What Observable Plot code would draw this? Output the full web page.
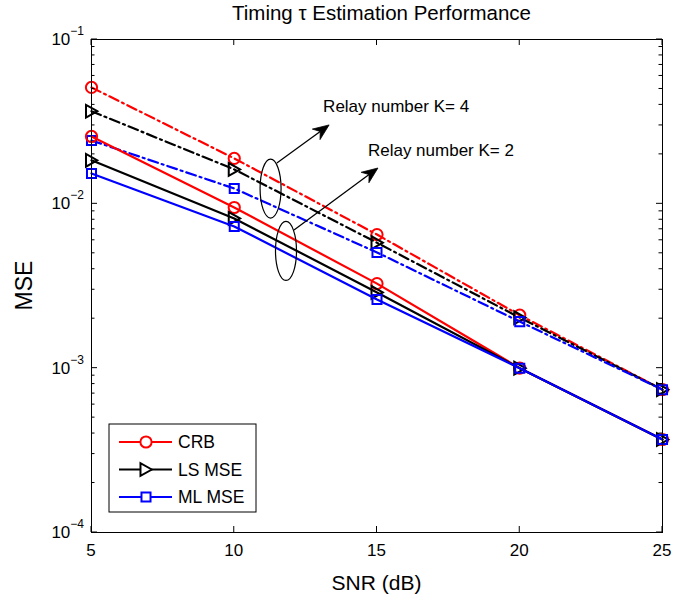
<!DOCTYPE html>
<html><head><meta charset="utf-8">
<script src="https://cdn.jsdelivr.net/npm/d3@7"></script>
<script src="https://cdn.jsdelivr.net/npm/@observablehq/plot@0.6"></script>
<style>
html,body{margin:0;padding:0;background:#fff}
svg{font-family:"Liberation Sans",Arial,Helvetica,sans-serif}
</style>
</head><body><div id="chart"></div>
<script>
// ---- data ----
const snr = [5, 10, 15, 20, 25];
const seriesNames = ["CRB", "LS MSE", "ML MSE"];
const seriesColors = ["#ff0000", "#000000", "#0000ff"];
// Relay number K = 4 (dash-dot)
const crbK4 = [0.0511, 0.0189, 0.0065, 0.0021, 0.00074];
const lsK4  = [0.0366, 0.0162, 0.0058, 0.00203, 0.00074];
const mlK4  = [0.0243, 0.0124, 0.00506, 0.00192, 0.00074];
// Relay number K = 2 (solid)
const crbK2 = [0.0257, 0.0095, 0.00327, 0.0010, 0.000368];
const lsK2  = [0.0184, 0.00815, 0.00289, 0.0010, 0.000368];
const mlK2  = [0.0153, 0.00728, 0.00262, 0.0010, 0.000368];
const xTicks = [5, 10, 15, 20, 25];
const yTicks = [1e-4, 1e-3, 1e-2, 1e-1];
const yTickBase = ["10", "10", "10", "10"];
const yTickExp = ["\u22124", "\u22123", "\u22122", "\u22121"];
const titleText = "Timing \u03c4 Estimation Performance";
const xLabel = "SNR (dB)";
const yLabel = "MSE";
// annotations, anchored in data coordinates (SNR, MSE)
const annLabels = ["Relay number K= 4", "Relay number K= 2"];
const annEllipse = [[11.29, 0.0123], [11.83, 0.00513]];
const annFrom = [[11.51, 0.01758], [12.11, 0.00689]];
const annTo = [[13.34, 0.030], [15.05, 0.0164]];
const annText = [[13.13, 0.0391], [14.70, 0.0211]];

// ---- build table ----
const groups = [
  {K: 4, vals: [crbK4, lsK4, mlK4]},
  {K: 2, vals: [crbK2, lsK2, mlK2]}
];
const rows = [];
groups.forEach(g => g.vals.forEach((arr, i) => arr.forEach((v, j) =>
  rows.push({snr: snr[j], mse: v, series: seriesNames[i], K: g.K}))));

// right-pointing triangle symbol
const triRight = {
  draw(ctx, size) {
    const r = Math.sqrt(size / Math.PI);
    ctx.moveTo(r * 1.0, 0);
    ctx.lineTo(-r * 0.95, -r * 1.1);
    ctx.lineTo(-r * 0.95, r * 1.1);
    ctx.closePath();
  }
};
const symbols = [d3.symbolCircle, triRight, d3.symbolSquare];
const symbolR = [5.6, 5.8, 5.1];

const NS = "http://www.w3.org/2000/svg";
function el(tag, attrs, text) {
  const e = document.createElementNS(NS, tag);
  for (const k in attrs) e.setAttribute(k, attrs[k]);
  if (text != null) e.textContent = text;
  return e;
}

function axesMark(index, scales, values, dims) {
  const g = el("g", {});
  const x = scales.x, y = scales.y;
  const L = dims.marginLeft, T = dims.marginTop;
  const R = dims.width - dims.marginRight, B = dims.height - dims.marginBottom;
  let d = "";
  const major = 6, minor = 3.5;
  for (const t of xTicks) {
    const px = x(t);
    d += `M${px},${B}V${B - major}M${px},${T}V${T + major}`;
  }
  for (const t of yTicks) {
    const py = y(t);
    d += `M${L},${py}H${L + major}M${R},${py}H${R - major}`;
  }
  for (let e = -4; e <= -2; e++) {
    for (let m = 2; m <= 9; m++) {
      const py = y(m * Math.pow(10, e));
      d += `M${L},${py}H${L + minor}M${R},${py}H${R - minor}`;
    }
  }
  g.appendChild(el("path", {d, stroke: "#000", "stroke-width": 1, fill: "none"}));
  // x tick labels
  xTicks.forEach(t => g.appendChild(el("text", {x: x(t), y: B + 24, "text-anchor": "middle", "font-size": 17, fill: "#000"}, String(t))));
  // y tick labels with superscripts
  yTicks.forEach((t, i) => {
    const tx = el("text", {x: L - 7, y: y(t) + 6, "text-anchor": "end", "font-size": 17, fill: "#000"});
    tx.appendChild(document.createTextNode(yTickBase[i]));
    tx.appendChild(el("tspan", {dy: -10, "font-size": 12}, yTickExp[i]));
    g.appendChild(tx);
  });
  const cx = (L + R) / 2;
  g.appendChild(el("text", {x: cx + 5, y: 20, "text-anchor": "middle", "font-size": 20.5, fill: "#000"}, titleText));
  g.appendChild(el("text", {x: cx, y: dims.height - 12, "text-anchor": "middle", "font-size": 21, fill: "#000"}, xLabel));
  g.appendChild(el("text", {transform: `translate(32,${(T + B) / 2}) rotate(-90)`, "text-anchor": "middle", "font-size": 23, fill: "#000"}, yLabel));
  return g;
}

function annotationMark(index, scales, values, dims) {
  const g = el("g", {});
  const x = scales.x, y = scales.y;
  annLabels.forEach((lab, i) => {
    g.appendChild(el("ellipse", {cx: x(annEllipse[i][0]), cy: y(annEllipse[i][1]), rx: 10.5, ry: 29.5, fill: "none", stroke: "#000", "stroke-width": 1.2}));
    const x1 = x(annFrom[i][0]), y1 = y(annFrom[i][1]);
    const x2 = x(annTo[i][0]), y2 = y(annTo[i][1]);
    const dx = x2 - x1, dy = y2 - y1, len = Math.hypot(dx, dy);
    const ux = dx / len, uy = dy / len, nx = -uy, ny = ux;
    const hl = 16, hw = 6.5, notch = 11;
    g.appendChild(el("line", {x1, y1, x2: x2 - ux * notch, y2: y2 - uy * notch, stroke: "#000", "stroke-width": 1.3}));
    const bx = x2 - ux * hl, by = y2 - uy * hl;
    const hd = `M${x2},${y2}L${bx + nx * hw},${by + ny * hw}L${x2 - ux * notch},${y2 - uy * notch}L${bx - nx * hw},${by - ny * hw}Z`;
    g.appendChild(el("path", {d: hd, fill: "#000", stroke: "#000", "stroke-width": 0.8, "stroke-linejoin": "miter"}));
    g.appendChild(el("text", {x: x(annText[i][0]), y: y(annText[i][1]) + 6, "text-anchor": "start", "font-size": 17, fill: "#000"}, lab));
  });
  return g;
}

function legendMark(index, scales, values, dims) {
  const g = el("g", {});
  const L = dims.marginLeft, B = dims.height - dims.marginBottom;
  const bx = L + 18, by = B - 108, bw = 147, bh = 88;
  g.appendChild(el("rect", {x: bx, y: by, width: bw, height: bh, fill: "#fff", stroke: "#000", "stroke-width": 1}));
  seriesNames.forEach((name, i) => {
    const ly = by + 18 + i * 27.5;
    g.appendChild(el("line", {x1: bx + 10, x2: bx + 63, y1: ly, y2: ly, stroke: seriesColors[i], "stroke-width": 2}));
    const r = symbolR[i];
    const p = d3.symbol(symbols[i], r * r * Math.PI)();
    g.appendChild(el("path", {d: p, transform: `translate(${bx + 37},${ly})`, fill: "#fff", stroke: seriesColors[i], "stroke-width": 2}));
    g.appendChild(el("text", {x: bx + 69, y: ly + 6, "text-anchor": "start", "font-size": 17.5, fill: "#000"}, name));
  });
  return g;
}

const marks = [];
for (const g of groups) {
  seriesNames.forEach((name, i) => {
    const data = rows.filter(r => r.K === g.K && r.series === name);
    marks.push(Plot.line(data, {x: "snr", y: "mse", stroke: "series", strokeWidth: 2.2,
      strokeDasharray: g.K === 4 ? "10,4,2,4" : null}));
    marks.push(Plot.dot(data, {x: "snr", y: "mse", stroke: "series", strokeWidth: 2, fill: "none",
      r: symbolR[i], symbol: symbols[i]}));
  });
}

const chart = Plot.plot({
  width: 694, height: 602,
  marginLeft: 91, marginRight: 32, marginTop: 39, marginBottom: 70,
  x: {type: "linear", domain: [5, 25], axis: null},
  y: {type: "log", domain: [1e-4, 1e-1], axis: null},
  color: {domain: seriesNames, range: seriesColors},
  style: {background: "#fff", fontFamily: "Liberation Sans, Arial, Helvetica, sans-serif"},
  marks: [
    ...marks,
    annotationMark,
    Plot.frame({stroke: "#000", strokeWidth: 1}),
    axesMark,
    legendMark
  ]
});
document.getElementById("chart").appendChild(chart);
</script>
</body></html>
